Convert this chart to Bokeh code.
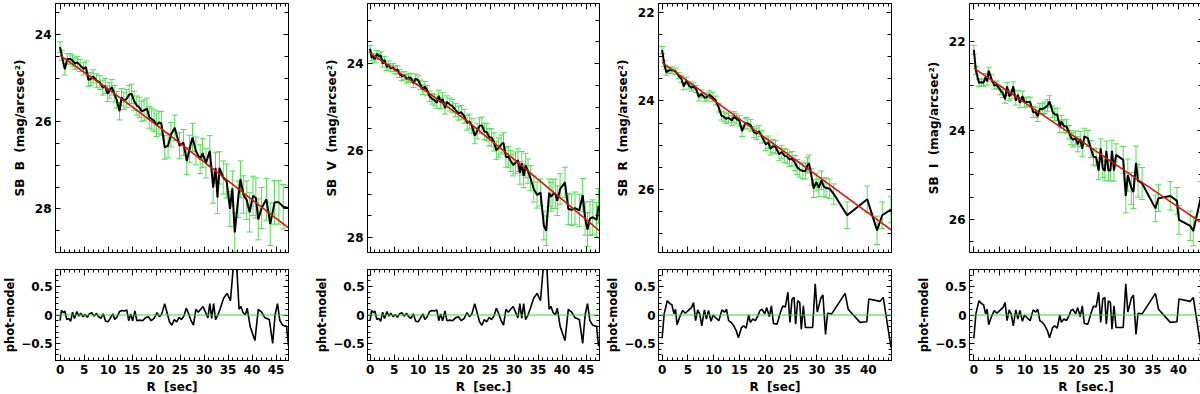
import numpy as np
from bokeh.plotting import figure
from bokeh.models import (Range1d, LinearAxis, SingleIntervalTicker, Whisker,
                          TeeHead, ColumnDataSource, Span)
from bokeh.layouts import row, column
from bokeh.embed import file_html
from bokeh.resources import INLINE

# ---------------- data ----------------
# B band profile
r_b = [0.0, 0.35, 1.0, 1.5, 2.1, 2.6, 3.1, 3.6, 4.2, 4.9,
       5.4, 5.9, 6.4, 6.9, 7.6, 8.3, 8.9, 9.4, 9.9, 10.3,
       10.8, 11.3, 11.8, 12.4, 12.8, 13.3, 13.9, 14.4, 14.9, 15.4,
       16.0, 16.5, 17.0, 17.5, 18.1, 18.6, 19.1, 19.6, 20.1, 20.6,
       21.1, 21.8, 22.5, 23.1, 23.9, 24.9, 25.7, 26.4, 27.0, 27.6,
       28.3, 29.2, 29.7, 30.4, 31.2, 31.9, 32.4, 32.8, 33.2, 34.0,
       34.7, 35.4, 35.9, 36.4, 37.1, 37.6, 38.2, 38.9, 39.5, 40.2,
       40.8, 41.3, 42.0, 43.0, 43.8, 44.7, 45.6, 46.5, 47.6]
sb_b = [24.29, 24.48, 24.80, 24.56, 24.56, 24.60, 24.67, 24.64, 24.71, 24.79,
        24.75, 25.04, 25.02, 24.96, 25.06, 25.10, 25.22, 25.18, 25.36, 25.28,
        25.21, 25.36, 25.50, 25.76, 25.44, 25.52, 25.47, 25.38, 25.36, 25.52,
        25.63, 25.67, 25.76, 25.74, 25.70, 25.90, 25.94, 25.98, 26.08, 26.02,
        26.04, 26.59, 26.55, 26.30, 26.14, 26.55, 26.48, 26.90, 26.62, 26.36,
        26.67, 26.86, 26.72, 26.95, 26.67, 27.51, 27.06, 27.74, 27.06, 27.28,
        27.36, 28.00, 27.53, 28.54, 27.78, 27.32, 27.67, 27.80, 28.08, 27.70,
        27.75, 28.24, 27.98, 27.78, 28.35, 27.85, 27.85, 27.95, 27.98]
err_b = [0.12, 0.12, 0.13, 0.12, 0.12, 0.13, 0.13, 0.13, 0.14, 0.14,
         0.14, 0.15, 0.15, 0.15, 0.16, 0.16, 0.17, 0.17, 0.18, 0.18,
         0.18, 0.19, 0.19, 0.20, 0.20, 0.20, 0.21, 0.21, 0.22, 0.22,
         0.22, 0.23, 0.23, 0.24, 0.24, 0.25, 0.25, 0.25, 0.26, 0.26,
         0.27, 0.27, 0.28, 0.28, 0.29, 0.30, 0.30, 0.31, 0.31, 0.32,
         0.32, 0.33, 0.33, 0.34, 0.35, 0.36, 0.36, 0.37, 0.37, 0.38,
         0.39, 0.40, 0.40, 0.45, 0.42, 0.42, 0.43, 0.44, 0.45, 0.45,
         0.46, 0.47, 0.47, 0.48, 0.49, 0.50, 0.50, 0.51, 0.52]

# V band profile; the B and V residual panels show the same curve
r_v = [0.0, 0.3, 0.7, 1.0, 1.4, 1.8, 2.2, 2.6, 3.0, 3.5,
       3.9, 4.3, 4.8, 5.2, 5.7, 6.1, 6.6, 7.1, 7.6, 8.0,
       8.5, 9.0, 9.5, 10.0, 10.5, 11.0, 11.4, 11.9, 12.4, 12.9,
       13.4, 13.9, 14.3, 14.7, 15.1, 15.6, 16.0, 16.6, 17.2, 17.8,
       18.4, 19.0, 19.6, 20.2, 20.7, 21.2, 21.8, 22.3, 22.8, 23.3,
       23.8, 24.3, 24.8, 25.3, 25.8, 26.3, 26.8, 27.3, 27.8, 28.3,
       28.8, 29.3, 29.8, 30.3, 30.8, 31.2, 31.6, 32.0, 32.4, 32.9,
       33.4, 34.1, 34.8, 35.5, 36.2, 36.7, 37.3, 37.7, 38.1, 38.6,
       39.0, 39.6, 40.6, 41.3, 42.0, 42.7, 43.6, 44.3, 44.8, 45.3,
       45.8, 46.4, 47.2, 47.6]
sb_v = [23.66, 23.86, 23.85, 23.90, 23.78, 23.83, 23.81, 24.00, 23.92, 24.08,
        24.03, 24.11, 24.09, 24.15, 24.14, 24.23, 24.29, 24.27, 24.35, 24.32,
        24.33, 24.45, 24.35, 24.38, 24.49, 24.60, 24.53, 24.62, 24.75, 24.81,
        24.84, 24.90, 24.74, 24.90, 24.81, 25.02, 24.88, 24.94, 24.98, 25.07,
        25.14, 25.12, 25.21, 25.36, 25.33, 25.43, 25.66, 25.55, 25.43, 25.42,
        25.56, 25.57, 25.69, 25.70, 25.80, 25.99, 25.93, 25.86, 25.82, 26.15,
        26.14, 26.24, 26.33, 26.28, 26.22, 26.51, 26.29, 26.58, 26.34, 26.47,
        26.63, 26.88, 27.02, 26.96, 27.72, 27.84, 26.97, 27.06, 27.00, 26.99,
        27.15, 26.88, 26.73, 27.34, 27.36, 27.32, 27.37, 27.02, 27.56, 27.81,
        27.56, 27.53, 27.59, 27.27]
err_v = [0.08, 0.08, 0.07, 0.08, 0.08, 0.07, 0.08, 0.08, 0.08, 0.08,
         0.09, 0.08, 0.09, 0.09, 0.09, 0.09, 0.10, 0.09, 0.10, 0.10,
         0.10, 0.10, 0.11, 0.11, 0.11, 0.11, 0.12, 0.12, 0.12, 0.12,
         0.13, 0.13, 0.13, 0.13, 0.14, 0.14, 0.14, 0.15, 0.15, 0.15,
         0.16, 0.16, 0.16, 0.17, 0.17, 0.17, 0.18, 0.18, 0.18, 0.19,
         0.19, 0.20, 0.20, 0.20, 0.21, 0.21, 0.22, 0.22, 0.23, 0.23,
         0.24, 0.24, 0.25, 0.25, 0.26, 0.26, 0.27, 0.27, 0.28, 0.28,
         0.29, 0.30, 0.30, 0.31, 0.33, 0.34, 0.32, 0.33, 0.33, 0.34,
         0.34, 0.35, 0.35, 0.36, 0.36, 0.37, 0.37, 0.38, 0.38, 0.39,
         0.39, 0.40, 0.40, 0.40]
res_bv = [-0.10, 0.08, 0.04, 0.07, -0.08, -0.06, -0.11, 0.05, -0.06, 0.06,
          -0.02, 0.03, -0.03, 0.01, -0.04, 0.02, 0.04, -0.02, 0.03, -0.03,
          -0.06, 0.02, -0.11, -0.12, -0.05, 0.02, -0.08, -0.03, 0.06, 0.08,
          0.07, 0.09, -0.10, 0.02, -0.10, 0.07, -0.10, -0.09, -0.10, -0.05,
          -0.03, -0.10, -0.06, 0.04, -0.03, 0.02, 0.20, 0.04, -0.12, -0.18,
          -0.08, -0.12, -0.04, -0.08, -0.02, 0.12, 0.02, -0.10, -0.18, 0.10,
          0.05, 0.10, 0.15, 0.05, -0.05, 0.20, -0.06, 0.20, -0.08, 0.00,
          0.12, 0.30, 0.38, 0.25, 0.95, 1.02, 0.10, 0.15, 0.05, 0.00,
          0.12, -0.20, -0.45, 0.10, 0.05, -0.05, -0.08, -0.50, 0.00, 0.20,
          -0.10, -0.18, -0.20, -0.55]

# R band profile
r_r = [0.0, 0.4, 0.8, 1.3, 1.9, 2.6, 3.2, 3.75, 4.2, 4.7,
       5.2, 5.7, 6.1, 6.6, 7.1, 7.6, 8.3, 8.7, 9.2, 9.7,
       10.4, 11.0, 11.5, 12.0, 12.4, 12.9, 13.5, 13.9, 14.4, 15.0,
       15.5, 16.1, 16.5, 17.2, 17.8, 18.3, 18.8, 19.4, 20.1, 20.6,
       21.0, 21.5, 22.0, 22.7, 23.2, 23.7, 24.3, 24.7, 25.2, 25.8,
       26.2, 26.7, 27.3, 27.8, 28.2, 28.5, 29.0, 29.4, 29.9, 30.4,
       30.9, 31.4, 31.8, 32.5, 33.3, 35.9, 39.8, 41.7, 42.7, 44.4]
sb_r = [22.85, 23.15, 23.35, 23.31, 23.30, 23.33, 23.43, 23.50, 23.67, 23.54,
        23.65, 23.70, 23.67, 23.73, 23.91, 23.84, 23.93, 23.91, 23.86, 23.91,
        23.99, 24.15, 24.33, 24.36, 24.40, 24.38, 24.44, 24.36, 24.40, 24.45,
        24.68, 24.51, 24.50, 24.55, 24.70, 24.74, 24.68, 24.81, 24.98, 24.93,
        25.08, 25.02, 25.04, 25.20, 25.15, 25.23, 25.26, 25.32, 25.30, 25.40,
        25.49, 25.55, 25.58, 25.58, 25.45, 25.41, 25.71, 25.98, 25.83, 25.96,
        25.79, 25.94, 25.96, 25.98, 26.10, 26.58, 26.22, 26.92, 26.58, 26.45]
err_r = [0.08, 0.07, 0.07, 0.07, 0.07, 0.07, 0.07, 0.08, 0.08, 0.08,
         0.08, 0.08, 0.08, 0.08, 0.09, 0.09, 0.09, 0.09, 0.09, 0.10,
         0.10, 0.10, 0.10, 0.11, 0.11, 0.11, 0.11, 0.12, 0.12, 0.12,
         0.12, 0.12, 0.13, 0.13, 0.13, 0.13, 0.13, 0.14, 0.14, 0.14,
         0.14, 0.15, 0.15, 0.15, 0.15, 0.16, 0.16, 0.16, 0.16, 0.17,
         0.17, 0.17, 0.18, 0.18, 0.18, 0.19, 0.19, 0.20, 0.20, 0.20,
         0.21, 0.21, 0.22, 0.22, 0.23, 0.30, 0.30, 0.32, 0.30, 0.30]

# I band profile; the R and I residual panels show the same curve
r_i = [0.0, 0.4, 1.0, 1.5, 1.9, 2.3, 2.6, 2.9, 3.4, 4.0,
       4.5, 5.2, 5.7, 6.1, 6.5, 6.9, 7.3, 7.7, 8.2, 8.6,
       9.0, 9.5, 9.9, 10.3, 11.0, 11.6, 12.1, 12.5, 12.9, 13.4,
       13.9, 14.4, 14.8, 15.4, 15.8, 16.3, 16.8, 17.1, 17.6, 18.1,
       18.6, 19.0, 19.4, 19.9, 20.3, 20.8, 21.2, 21.6, 22.3, 22.9,
       23.4, 23.9, 24.4, 24.8, 25.2, 25.6, 25.9, 26.3, 26.7, 27.0,
       27.4, 27.8, 29.2, 29.7, 30.1, 30.8, 31.2, 31.7, 32.1, 32.9,
       35.5, 36.1, 38.4, 39.7, 40.1, 42.3, 42.9, 44.4]
sb_i = [22.19, 22.65, 22.93, 22.92, 22.93, 22.80, 22.90, 22.66, 22.83, 22.99,
        22.98, 23.10, 23.17, 23.30, 23.01, 23.23, 23.19, 23.01, 23.33, 23.20,
        23.38, 23.23, 23.37, 23.36, 23.36, 23.59, 23.59, 23.68, 23.51, 23.52,
        23.49, 23.44, 23.35, 23.58, 23.64, 23.64, 23.91, 23.80, 23.90, 23.91,
        24.04, 24.16, 24.21, 24.17, 24.31, 24.19, 24.41, 24.13, 24.18, 24.42,
        24.59, 24.60, 24.90, 24.40, 24.85, 24.91, 24.46, 24.90, 24.90, 24.46,
        24.90, 24.55, 24.66, 25.47, 25.00, 25.30, 25.38, 24.73, 25.13, 25.19,
        25.75, 25.52, 25.47, 25.58, 26.01, 26.14, 26.26, 25.49]
err_i = [0.10, 0.09, 0.08, 0.08, 0.08, 0.08, 0.08, 0.08, 0.08, 0.08,
         0.09, 0.09, 0.09, 0.09, 0.09, 0.10, 0.10, 0.10, 0.10, 0.10,
         0.11, 0.11, 0.11, 0.11, 0.11, 0.12, 0.12, 0.12, 0.12, 0.12,
         0.13, 0.13, 0.13, 0.13, 0.14, 0.14, 0.14, 0.14, 0.15, 0.15,
         0.15, 0.16, 0.16, 0.16, 0.17, 0.17, 0.17, 0.18, 0.18, 0.19,
         0.19, 0.20, 0.20, 0.21, 0.21, 0.22, 0.22, 0.23, 0.23, 0.24,
         0.24, 0.25, 0.30, 0.38, 0.36, 0.36, 0.37, 0.38, 0.37, 0.36,
         0.30, 0.30, 0.32, 0.30, 0.32, 0.33, 0.33, 0.34]
res_ri = [-0.41, 0.02, 0.25, 0.20, 0.18, 0.02, 0.10, -0.17, -0.04, 0.08,
          0.03, 0.09, 0.13, 0.22, -0.10, 0.09, 0.02, -0.19, 0.09, -0.07,
          0.08, -0.11, 0.00, -0.04, -0.10, 0.09, 0.05, 0.10, -0.10, -0.13,
          -0.19, -0.28, -0.40, -0.22, -0.19, -0.23, 0.00, -0.13, -0.07, -0.10,
          -0.01, 0.08, 0.10, 0.02, 0.13, -0.03, 0.16, -0.15, -0.16, 0.03,
          0.16, 0.14, 0.40, -0.13, 0.28, 0.31, -0.16, 0.25, 0.22, -0.25,
          0.16, -0.22, -0.22, 0.55, 0.05, 0.30, 0.35, -0.34, 0.03, 0.02,
          0.38, 0.10, -0.13, -0.12, 0.28, 0.24, 0.31, -0.57]

# model (red) curves
model_r_b = [0, 10, 20, 30, 40, 48]
model_b = [24.48, 25.25, 26.07, 26.92, 27.79, 28.47]
model_r_v = [0, 10, 20, 30, 40, 48]
model_v = [23.76, 24.50, 25.30, 26.20, 27.12, 27.86]
model_r_r = [0, 10, 20, 30, 40, 45]
model_r = [23.13, 23.98, 24.83, 25.68, 26.53, 26.96]
model_r_i = [0, 10, 20, 30, 40, 45]
model_i = [22.60, 23.38, 24.16, 24.94, 25.72, 26.11]

# ---------------- styling ----------------
FONT = "DejaVu Sans"
GREEN = "#4fe04f"
ZERO_GREEN = "#3ccc3c"
RED = "#e01010"
NB = "\u00a0"


def style_axis(ax, major_in, minor_in, show_labels, label_standoff=4,
               tick_standoff=4, label_size="12px"):
    ax.major_tick_in = major_in
    ax.major_tick_out = 0
    ax.minor_tick_in = minor_in
    ax.minor_tick_out = 0
    ax.axis_line_color = "black"
    ax.axis_line_width = 1
    ax.major_tick_line_color = "black"
    ax.minor_tick_line_color = "black"
    ax.major_label_text_font = FONT
    ax.major_label_text_font_style = "bold"
    if show_labels:
        ax.major_label_text_color = "black"
        ax.major_label_text_font_size = "12px"
        ax.major_label_standoff = tick_standoff
    else:
        ax.major_label_text_color = None
        ax.major_label_text_font_size = "0px"
        ax.major_label_standoff = 0
    ax.axis_label_text_font = FONT
    ax.axis_label_text_font_style = "bold"
    ax.axis_label_text_font_size = label_size
    ax.axis_label_text_color = "black"
    ax.axis_label_standoff = label_standoff


def make_fig(xr, yr, fw, fh, bl, br, bt, bb, yint, yminor, ymaj_in, ymin_in,
             xlabels, xlabel=None, ylabel=None, ylab_standoff=4,
             ytick_standoff=4, ylab_size="12px"):
    p = figure(frame_width=fw, frame_height=fh,
               x_range=Range1d(*xr), y_range=Range1d(*yr),
               x_axis_type=None, y_axis_type=None,
               output_backend="svg", toolbar_location=None,
               min_border_left=bl, min_border_right=br,
               min_border_top=bt, min_border_bottom=bb)
    p.outline_line_color = "black"
    p.outline_line_width = 1
    p.background_fill_color = "white"
    p.border_fill_color = "white"
    for loc in ("below", "above"):
        ax = LinearAxis(ticker=SingleIntervalTicker(interval=5, num_minor_ticks=5))
        style_axis(ax, 6, 3, xlabels and loc == "below", 3)
        if loc == "below" and xlabel:
            ax.axis_label = xlabel
        p.add_layout(ax, loc)
    for loc in ("left", "right"):
        ax = LinearAxis(ticker=SingleIntervalTicker(interval=yint, num_minor_ticks=yminor))
        style_axis(ax, ymaj_in, ymin_in, loc == "left", ylab_standoff,
                   ytick_standoff, ylab_size)
        if loc == "left" and ylabel:
            ax.axis_label = ylabel
        p.add_layout(ax, loc)
    return p


def sb_panel(xr, yr, bl, br, fw, r, sb, err, mr, ms, band):
    p = make_fig(xr, yr, fw, 249, bl, br, 3, 9, 2, 4, 5, 4, False,
                 ylabel="SB " + NB + band + " " + NB + "(mag/arcsec\u00b2)",
                 ylab_standoff=5)
    src = ColumnDataSource(dict(x=r, y=sb,
                                lo=list(np.array(sb) - np.array(err)),
                                hi=list(np.array(sb) + np.array(err))))
    wh = Whisker(source=src, base="x", upper="hi", lower="lo",
                 line_color=GREEN, line_width=1,
                 upper_head=TeeHead(size=6, line_color=GREEN, line_width=1),
                 lower_head=TeeHead(size=6, line_color=GREEN, line_width=1))
    p.add_layout(wh)
    p.line("x", "y", source=src, line_color="black", line_width=2)
    p.line(mr, ms, line_color=RED, line_width=1.6)
    return p


def res_panel(xr, bl, br, fw, r, res, xlabel):
    p = make_fig(xr, (-0.8, 0.8), fw, 91, bl, br, 8, 32, 0.5, 5, 5, 3, True,
                 xlabel=xlabel, ylabel="phot-model", ylab_standoff=1,
                 ytick_standoff=3, ylab_size="11.5px")
    p.add_layout(Span(location=0, dimension="width", line_color=ZERO_GREEN,
                      line_width=1))
    p.line(r, res, line_color="black", line_width=1.6)
    return p


cols = []
specs = [
    dict(xr=(-0.95, 47.6), yr=(29.0, 23.29), bl=52, br=15, fw=233,
         r=r_b, sb=sb_b, err=err_b, mr=model_r_b, ms=model_b, band="B",
         rr=r_v, res=res_bv, xl="R " + NB + "[sec]"),
    dict(xr=(-0.55, 47.8), yr=(28.34, 22.62), bl=64, br=4, fw=232,
         r=r_v, sb=sb_v, err=err_v, mr=model_r_v, ms=model_v, band="V",
         rr=r_v, res=res_bv, xl="R " + NB + "[sec.]"),
    dict(xr=(-0.7, 44.5), yr=(27.42, 21.8), bl=53, br=14, fw=233,
         r=r_r, sb=sb_r, err=err_r, mr=model_r_r, ms=model_r, band="R",
         rr=r_i, res=res_ri, xl="R " + NB + "[sec]"),
    dict(xr=(-0.85, 44.7), yr=(26.74, 21.15), bl=64, br=2, fw=233,
         r=r_i, sb=sb_i, err=err_i, mr=model_r_i, ms=model_i, band="I",
         rr=r_i, res=res_ri, xl="R " + NB + "[sec.]"),
]
for s in specs:
    top = sb_panel(s["xr"], s["yr"], s["bl"], s["br"], s["fw"], s["r"], s["sb"],
                   s["err"], s["mr"], s["ms"], s["band"])
    bot = res_panel(s["xr"], s["bl"], s["br"], s["fw"], s["rr"], s["res"], s["xl"])
    cols.append(column(top, bot, spacing=0))

layout = row(*cols, spacing=0)
layout.styles = {"margin": "0px"}

open("out.html", "w").write(file_html(layout, INLINE))
